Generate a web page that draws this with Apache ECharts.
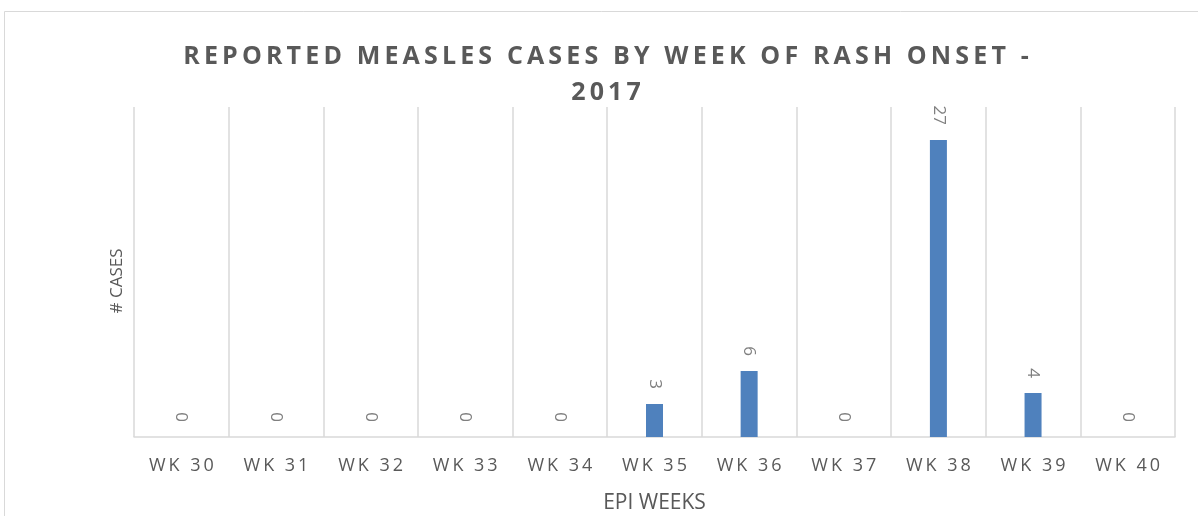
<!DOCTYPE html>
<html><head><meta charset="utf-8">
<script src="https://cdn.jsdelivr.net/npm/echarts@6/dist/echarts.min.js"></script>
<style>html,body{margin:0;padding:0;background:#fff}#c{width:1198px;height:516px}</style>
</head><body><div id="c"></div>
<script>
const titleText = 'REPORTED MEASLES CASES BY WEEK OF RASH ONSET -\n2017';
const categories = ['WK 30','WK 31','WK 32','WK 33','WK 34','WK 35','WK 36','WK 37','WK 38','WK 39','WK 40'];
const cases = [0,0,0,0,0,3,6,0,27,4,0];
const xName = 'EPI WEEKS';
const yName = '# CASES';

const spaced = s => s.split('\n').map(l => l.split('').join('\u2009')).join('\n');
const chart = echarts.init(document.getElementById('c'));
chart.setOption({
  animation: false,
  backgroundColor: '#fff',
  graphic: [{type:'rect', shape:{x:4.5,y:11.5,width:1300,height:600}, style:{fill:'none', stroke:'#d9d9d9', lineWidth:1}, silent:true}],
  title: {
    text: spaced(titleText), left: 601, top: 34, textAlign: 'center',
    textStyle: {fontFamily:'Open Sans', fontWeight:'bold', fontSize:25, color:'#595959', lineHeight:36}
  },
  grid: {left:134, right:23, top:107, bottom:79, outerBoundsMode:'none', containLabel:false},
  xAxis: {
    type:'category', data: categories,
    name: xName, nameLocation:'middle', nameGap:56,
    nameTextStyle:{fontFamily:'Open Sans', fontSize:21, color:'#595959'},
    axisLine:{lineStyle:{color:'#d9d9d9', width:1.5}},
    axisTick:{show:false},
    axisLabel:{formatter: spaced, fontFamily:'Open Sans', fontSize:18, color:'#595959', margin:20},
    splitLine:{show:true, interval:0, lineStyle:{color:'#d9d9d9', width:1.5}}
  },
  yAxis: {
    type:'value', min:0, max:30, interval:5,
    name: yName, nameLocation:'middle', nameGap:8, nameRotate:90,
    nameTextStyle:{fontFamily:'Open Sans', fontSize:17, color:'#595959', padding:[0,18,0,0]},
    axisLine:{show:false}, axisTick:{show:false}, axisLabel:{show:false}, splitLine:{show:false}
  },
  series: [{
    type:'bar', data: cases, barWidth:17,
    itemStyle:{color:'#4f81bd'},
    label:{show:true, position:'top', rotate:-90, align:'right', verticalAlign:'middle', distance:15,
      fontFamily:'Open Sans', fontSize:17, color:'#7f7f7f'}
  }]
});
</script></body></html>
